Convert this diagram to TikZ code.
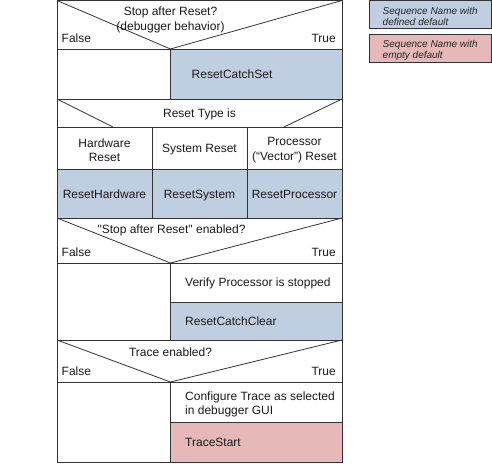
\documentclass[tikz,border=0pt]{standalone}
\usepackage{fontspec}
\setmainfont{Liberation Sans}
\usetikzlibrary{positioning}
\definecolor{seqblue}{HTML}{BFCFE1}
\definecolor{seqred}{HTML}{E6B8B7}

\begin{document}
\begin{tikzpicture}[x=1pt,y=-1pt,font=\fontsize{12}{14.5}\selectfont]
  \tikzstyle{cell}=[draw=black!80,line width=0.8pt]
  \tikzstyle{defseq}=[cell,fill=seqblue]
  \tikzstyle{emptyseq}=[cell,fill=seqred]
  \tikzstyle{txt}=[inner sep=0pt,text=black!90,yshift=-1.5pt]
  \tikzstyle{legendbox}=[draw=black!80,line width=0.8pt,align=left,
                         minimum width=121.5pt,minimum height=28pt,inner sep=0pt,
                         text=black!85,font=\fontsize{10}{11}\selectfont\itshape]

  \useasboundingbox (0,0) rectangle (492,463);

  % Stop after Reset?
  \draw[cell] (57,0.5) rectangle (342,49);
  \draw[cell] (57,0.5) -- (170.5,49) -- (342,0.5);
  \node[txt,align=center] (q1) at (170.5,18.5) {Stop after Reset?\\(debugger behavior)};
  \node[txt,anchor=mid west] (f1) at (61.5,38) {False};
  \node[txt,anchor=mid east] (t1) at (336,38) {True};
  \draw[cell] (57,49) rectangle (170.5,99);
  \draw[defseq] (170.5,49) rectangle (342,99);
  \node[txt,anchor=mid west] (rcs) at (191.5,74) {ResetCatchSet};

  % Reset Type is
  \draw[cell] (57,99) rectangle (342,127);
  \draw[cell] (57,99) -- (113,127) (342,99) -- (284,127);
  \node[txt,anchor=mid] (rt) at (199.5,113) {Reset Type is};
  \draw[cell] (57,127) rectangle (152,169);
  \draw[cell] (152,127) rectangle (247,169);
  \draw[cell] (247,127) rectangle (342,169);
  \node[txt,align=center] (hw) at (104.5,148.5) {Hardware\\Reset};
  \node[txt,anchor=mid] (sys) at (199.5,148.5) {System Reset};
  \node[txt,align=center] (proc) at (294.5,148.5) {Processor\\(“Vector”) Reset};
  \draw[defseq] (57,169) rectangle (152,218);
  \draw[defseq] (152,169) rectangle (247,218);
  \draw[defseq] (247,169) rectangle (342,218);
  \node[txt,anchor=mid] (rhw) at (104.5,194) {ResetHardware};
  \node[txt,anchor=mid] (rsys) at (199.5,194) {ResetSystem};
  \node[txt,anchor=mid] (rproc) at (294.5,194) {ResetProcessor};

  % Stop after Reset enabled?
  \draw[cell] (57,218) rectangle (342,263);
  \draw[cell] (57,218) -- (170.5,263) -- (342,218);
  \node[txt,anchor=mid] (q2) at (171.5,229) {\textquotedbl Stop after Reset\textquotedbl{} enabled?};
  \node[txt,anchor=mid west] (f2) at (61.5,252) {False};
  \node[txt,anchor=mid east] (t2) at (336,252) {True};
  \draw[cell] (57,263) rectangle (170.5,340);
  \draw[cell] (170.5,263) rectangle (342,302);
  \draw[defseq] (170.5,302) rectangle (342,340);
  \node[txt,anchor=mid west] (vps) at (185,282) {Verify Processor is stopped};
  \node[txt,anchor=mid west] (rcc) at (185,321) {ResetCatchClear};

  % Trace enabled?
  \draw[cell] (57,340) rectangle (342,382);
  \draw[cell] (57,340) -- (170.5,382) -- (342,340);
  \node[txt,anchor=mid] (q3) at (170.5,352) {Trace enabled?};
  \node[txt,anchor=mid west] (f3) at (61.5,371.5) {False};
  \node[txt,anchor=mid east] (t3) at (336,371.5) {True};
  \draw[cell] (57,382) rectangle (170.5,462);
  \draw[cell] (170.5,382) rectangle (342,422);
  \draw[emptyseq] (170.5,422) rectangle (342,462);
  \node[txt,anchor=west,align=left] (cfg) at (185,403) {Configure Trace as selected\\in debugger GUI};
  \node[txt,anchor=mid west] (ts) at (185,442) {TraceStart};

  \node[legendbox,fill=seqblue] (lgdef) at (430.25,14.25) {\rule{0pt}{12pt}Sequence Name with\\defined default};
  \node[legendbox,fill=seqred] (lgempty) [below=5pt of lgdef] {\rule{0pt}{12pt}Sequence Name with\\empty default};
\end{tikzpicture}
\end{document}
